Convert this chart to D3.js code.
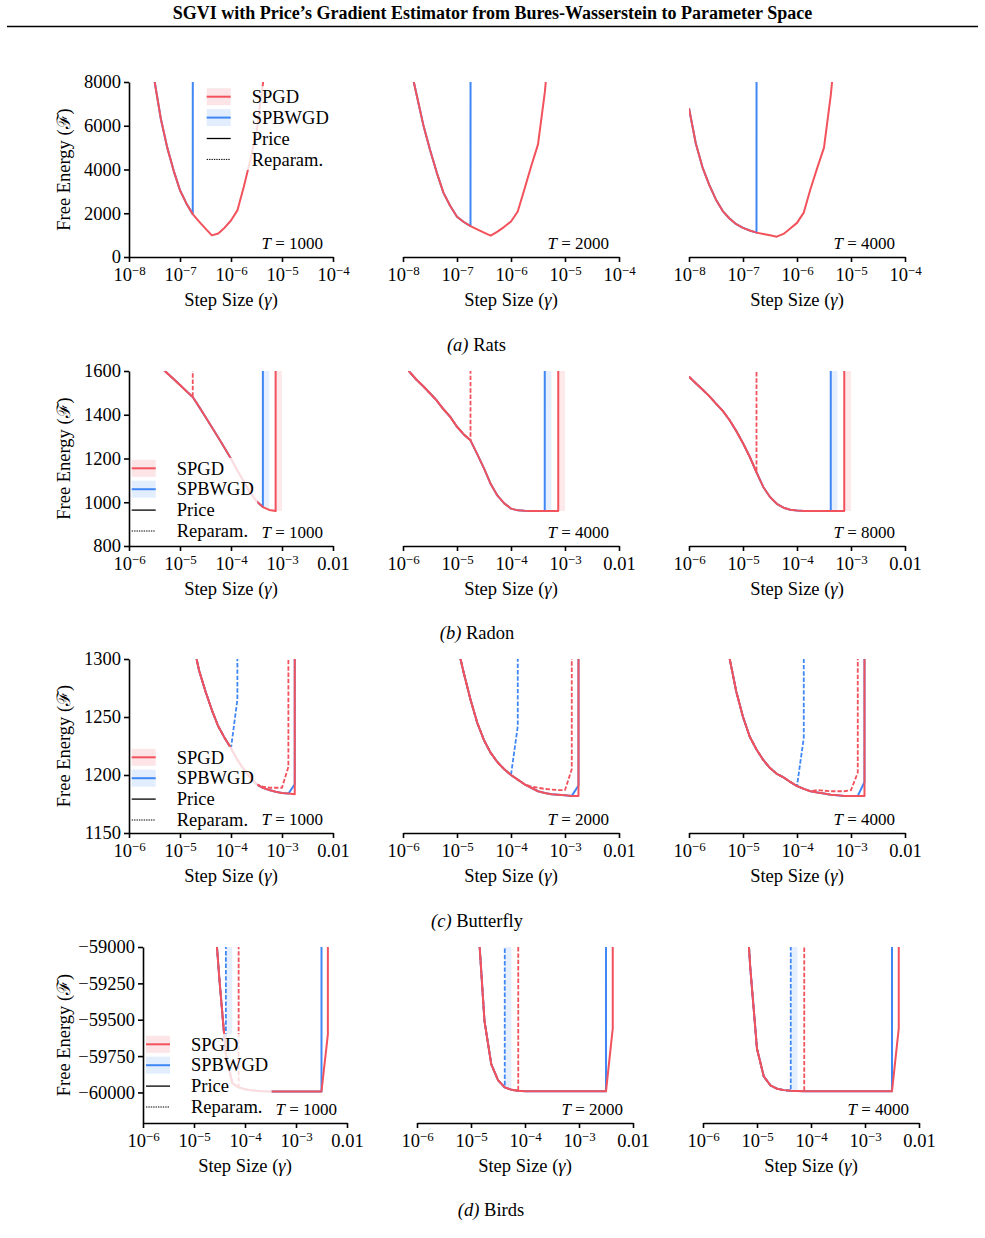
<!DOCTYPE html>
<html>
<head>
<meta charset="utf-8">
<title>SGVI step size sweep</title>
<script src="https://cdn.jsdelivr.net/npm/d3@7/dist/d3.min.js"></script>
<style>
  body { margin: 0; background: #fff; }
  svg { display: block; }
  text { font-family: "Liberation Serif", "Times New Roman", Times, serif; fill: #000; }
</style>
</head>
<body>
<svg id="fig" width="985" height="1238"></svg>
<script>
const _ = null;
// a run that diverged is stored as this huge value, so its line shoots off the top
const DIV = 1e6;

// step size grids, 8 points per decade
const stepsRats = [1e-8, 1.334e-8, 1.778e-8, 2.371e-8, 3.162e-8, 4.217e-8, 5.623e-8, 7.499e-8,
  1e-7, 1.334e-7, 1.778e-7, 2.371e-7, 3.162e-7, 4.217e-7, 5.623e-7, 7.499e-7,
  1e-6, 1.334e-6, 1.778e-6, 2.371e-6, 3.162e-6, 4.217e-6, 5.623e-6];
const stepsWide = [1e-6, 1.334e-6, 1.778e-6, 2.371e-6, 3.162e-6, 4.217e-6, 5.623e-6, 7.499e-6,
  1e-5, 1.334e-5, 1.778e-5, 2.371e-5, 3.162e-5, 4.217e-5, 5.623e-5, 7.499e-5,
  1e-4, 1.334e-4, 1.778e-4, 2.371e-4, 3.162e-4, 4.217e-4, 5.623e-4, 7.499e-4,
  1e-3, 1.334e-3, 1.778e-3, 2.371e-3, 3.162e-3, 4.217e-3, 5.623e-3];

// ---- Rats ----
const ratsT = [1000, 2000, 4000];
const ratsSpgdPrice = [
  [_, _, _, 10800, 8050, 6310, 5000, 3950, 3050, 2450, 1960, 1620, 1300, 990, 1075, 1340, 1670, 2130, 3200, 4400, 5700, 7900, 11000],
  [_, 8840, 7440, 6050, 4900, 3860, 2930, 2330, 1844, 1600, 1415, 1260, 1115, 975, 1160, 1380, 1620, 2080, 3110, 4160, 5150, 7500, 10800],
  [6800, 5200, 4100, 3300, 2620, 2100, 1760, 1500, 1330, 1210, 1115, 1050, 990, 930, 1055, 1300, 1560, 2030, 3110, 4075, 5000, 7390, 10500]
];
const ratsSpbwgdPrice = [
  [_, _, _, 10800, 8050, 6310, 5000, 3950, 3050, 2450, 1960, DIV],
  [_, 8840, 7440, 6050, 4900, 3860, 2930, 2330, 1844, 1600, 1415, DIV],
  [6800, 5200, 4100, 3300, 2620, 2100, 1760, 1500, 1330, 1210, 1115, DIV]
];

// ---- Radon ----
const radonT = [1000, 4000, 8000];
const radonSpgdPrice = [
  [_, _, _, _, _, 1617, 1590, 1563, 1536, 1508, 1481, 1436, 1390, 1343, 1296, 1248, 1199, 1145, 1095, 1045, 1005, 978, 965, 960, DIV],
  [1640, 1595, 1560, 1530, 1498, 1465, 1425, 1390, 1345, 1310, 1283, 1220, 1155, 1083, 1030, 995, 971, 963, 961, 960, 960, 960, 960, 960, DIV],
  [1574, 1544, 1515, 1485, 1451, 1418, 1376, 1326, 1270, 1208, 1137, 1070, 1024, 993, 975, 966, 962, 960, 960, 960, 960, 960, 960, 960, DIV]
];
const radonSpgdReparam = [
  [_, _, _, _, _, 1617, 1590, 1563, 1536, 1508, 1481, DIV],
  [1640, 1595, 1560, 1530, 1498, 1465, 1425, 1390, 1345, 1310, 1283, DIV],
  [1574, 1544, 1515, 1485, 1451, 1418, 1376, 1326, 1270, 1208, 1137, DIV]
];
const radonSpbwgdPrice = [
  [_, _, _, _, _, 1617, 1590, 1563, 1536, 1508, 1481, 1436, 1390, 1343, 1296, 1248, 1199, 1145, 1095, 1045, 1005, 978, DIV],
  [1640, 1595, 1560, 1530, 1498, 1465, 1425, 1390, 1345, 1310, 1283, 1220, 1155, 1083, 1030, 995, 971, 963, 961, 960, 960, 960, DIV],
  [1574, 1544, 1515, 1485, 1451, 1418, 1376, 1326, 1270, 1208, 1137, 1070, 1024, 993, 975, 966, 962, 960, 960, 960, 960, 960, DIV]
];
// [step, lower, upper] of the spread across runs where it shows
const radonSpgdBand = [
  [[7.499e-4, 960, 960], [1e-3, 960, DIV]],
  [[7.499e-4, 960, 960], [1e-3, 960, DIV]],
  [[7.499e-4, 960, 960], [1e-3, 960, DIV]]
];
const radonSpbwgdBand = [
  [[4.217e-4, 978, 978], [5.623e-4, 965, DIV]],
  [[4.217e-4, 960, 960], [5.623e-4, 960, DIV]],
  [[4.217e-4, 960, 960], [5.623e-4, 960, DIV]]
];

// ---- Butterfly ----
const butterflyT = [1000, 2000, 4000];
const butterflySpgdPrice = [
  [_, _, _, _, _, _, _, _, _, _, 1315, 1290, 1272, 1256, 1242, 1232, 1223, 1213, 1205, 1198, 1192, 1189, 1187, 1185.5, 1184.5, 1184, 1183.5, DIV],
  [_, _, _, _, _, _, _, _, 1313, 1288, 1265, 1245, 1230, 1219, 1211, 1205, 1200, 1196, 1192, 1189, 1186, 1184.5, 1183.5, 1183, 1182.5, 1182, 1182, DIV],
  [_, _, _, _, _, 1335, 1301, 1272, 1250, 1233, 1222, 1213, 1206, 1201, 1198, 1194, 1190.5, 1188, 1186, 1185, 1184, 1183, 1182.5, 1182, 1182, 1182, 1182, DIV]
];
const butterflySpgdReparam = [
  [_, _, _, _, _, _, _, _, _, _, 1315, 1290, 1272, 1256, 1242, 1232, 1223, 1213, 1205, 1198, 1192, 1190, 1189, 1189, 1189, 1207, DIV],
  [_, _, _, _, _, _, _, _, 1313, 1288, 1265, 1245, 1230, 1219, 1211, 1205, 1200, 1196, 1192, 1190, 1189, 1188, 1187.5, 1187, 1187, 1205, DIV],
  [_, _, _, _, _, 1335, 1301, 1272, 1250, 1233, 1222, 1213, 1206, 1201, 1198, 1194, 1190.5, 1188, 1186, 1187, 1186.5, 1186, 1186, 1186, 1187, 1202, DIV]
];
const butterflySpbwgdPrice = [
  [_, _, _, _, _, _, _, _, _, _, 1315, 1290, 1272, 1256, 1242, 1232, 1223, 1213, 1205, 1198, 1192, 1189, 1187, 1185.5, 1184.5, 1184, 1192, DIV],
  [_, _, _, _, _, _, _, _, 1313, 1288, 1265, 1245, 1230, 1219, 1211, 1205, 1200, 1196, 1192, 1189, 1186, 1184.5, 1183.5, 1183, 1182.5, 1182, 1191, DIV],
  [_, _, _, _, _, 1335, 1301, 1272, 1250, 1233, 1222, 1213, 1206, 1201, 1198, 1194, 1190.5, 1188, 1186, 1185, 1184, 1183, 1182.5, 1182, 1182, 1182, 1194, DIV]
];
const butterflySpbwgdReparam = [
  [_, _, _, _, _, _, _, _, _, _, 1315, 1290, 1272, 1256, 1242, 1232, 1223, 1265, DIV],
  [_, _, _, _, _, _, _, _, 1313, 1288, 1265, 1245, 1230, 1219, 1211, 1205, 1200, 1242, DIV],
  [_, _, _, _, _, 1335, 1301, 1272, 1250, 1233, 1222, 1213, 1206, 1201, 1198, 1194, 1190.5, 1232, DIV]
];

// ---- Birds ----
const birdsT = [1000, 2000, 4000];
const birdsSpgdPrice = [
  [_, _, _, _, _, _, _, _, _, _, _, -58650, -59230, -59740, -59935, -59965, -59978, -59985, -59990, -59992,
    -59993, -59993, -59993, -59993, -59993, -59993, -59993, -59993, -59993, -59600, DIV],
  [_, _, _, _, _, _, _, _, _, -58800, -59510, -59805, -59915, -59965, -59982, -59989,
    -59992, -59992, -59992, -59992, -59992, -59992, -59992, -59992, -59992, -59992, -59992, -59992, -59992, -59560, DIV],
  [_, _, _, _, _, _, -58400, -59140, -59700, -59890, -59952, -59975, -59984, -59988, -59990, -59991,
    -59992, -59992, -59992, -59992, -59992, -59992, -59992, -59992, -59992, -59992, -59992, -59992, -59992, -59560, DIV]
];
const birdsSpgdReparam = [
  [_, _, _, _, _, _, _, _, _, _, _, -58650, -59230, -59740, -59935, -59965, DIV],
  [_, _, _, _, _, _, _, _, _, -58800, -59510, -59805, -59915, -59965, -59982, -59989, DIV],
  [_, _, _, _, _, _, -58400, -59140, -59700, -59890, -59952, -59975, -59984, -59988, -59990, -59991, DIV]
];
const birdsSpbwgdPrice = [
  [_, _, _, _, _, _, _, _, _, _, _, -58650, -59230, -59740, -59935, -59965, -59978, -59985, -59990, -59992,
    -59993, -59993, -59993, -59993, -59993, -59993, -59993, -59993, -59993, DIV],
  [_, _, _, _, _, _, _, _, _, -58800, -59510, -59805, -59915, -59965, -59982, -59989,
    -59992, -59992, -59992, -59992, -59992, -59992, -59992, -59992, -59992, -59992, -59992, -59992, -59992, DIV],
  [_, _, _, _, _, _, -58400, -59140, -59700, -59890, -59952, -59975, -59984, -59988, -59990, -59991,
    -59992, -59992, -59992, -59992, -59992, -59992, -59992, -59992, -59992, -59992, -59992, -59992, -59992, DIV]
];
const birdsSpbwgdReparam = [
  [_, _, _, _, _, _, _, _, _, _, _, -58650, -59230, -59740, DIV],
  [_, _, _, _, _, _, _, _, _, -58800, -59510, -59805, -59915, -59965, DIV],
  [_, _, _, _, _, _, -58400, -59140, -59700, -59890, -59952, -59975, -59984, -59988, DIV]
];
const birdsSpbwgdBand = [
  [[4.217e-5, -59740, -59740], [5.623e-5, -59935, DIV]],
  [[4.217e-5, -59965, -59965], [5.623e-5, -59982, DIV]],
  [[4.217e-5, -59988, -59988], [5.623e-5, -59990, DIV]]
];

const decadesRats = [1e-8, 1e-7, 1e-6, 1e-5, 1e-4];
const decadesWide = [1e-6, 1e-5, 1e-4, 1e-3, 1e-2];

const RED = "#f2525c";
const BLUE = "#3f87f5";
const FS = 18.5;

const colsA = [[129, 333], [403, 619], [689, 905]];
const colsD = [[143, 347], [417, 633], [703, 919]];

const rows = [
  { label: "(a)", name: "Rats", steps: stepsRats, T: ratsT, top: 82, bottom: 257, cols: colsA,
    xDomain: [1e-8, 1e-4], xTicks: decadesRats, yDomain: [0, 8000], yTicks: [0, 2000, 4000, 6000, 8000],
    bands: [],
    series: [
      { values: ratsSpbwgdPrice, color: BLUE },
      { values: ratsSpgdPrice, color: RED }],
    legend: { x: 206.7, y: 96.7 }, capX: 476.5, capY: 351 },
  { label: "(b)", name: "Radon", steps: stepsWide, T: radonT, top: 371, bottom: 546, cols: colsA,
    xDomain: [1e-6, 1e-2], xTicks: decadesWide, yDomain: [800, 1600], yTicks: [800, 1000, 1200, 1400, 1600],
    bands: [{ data: radonSpbwgdBand, color: BLUE }, { data: radonSpgdBand, color: RED }],
    series: [
      { values: radonSpbwgdPrice, color: BLUE },
      { values: radonSpgdPrice, color: RED },
      { values: radonSpgdReparam, color: RED, dashed: true }],
    legend: { x: 131.7, y: 468.3 }, capX: 477, capY: 639 },
  { label: "(c)", name: "Butterfly", steps: stepsWide, T: butterflyT, top: 659, bottom: 833, cols: colsA,
    xDomain: [1e-6, 1e-2], xTicks: decadesWide, yDomain: [1150, 1300], yTicks: [1150, 1200, 1250, 1300],
    bands: [],
    series: [
      { values: butterflySpbwgdPrice, color: BLUE },
      { values: butterflySpbwgdReparam, color: BLUE, dashed: true },
      { values: butterflySpgdPrice, color: RED },
      { values: butterflySpgdReparam, color: RED, dashed: true }],
    legend: { x: 131.7, y: 757.3 }, capX: 477, capY: 927 },
  { label: "(d)", name: "Birds", steps: stepsWide, T: birdsT, top: 947, bottom: 1123, cols: colsD,
    xDomain: [1e-6, 1e-2], xTicks: decadesWide, yDomain: [-60210, -59000], yTicks: [-60000, -59750, -59500, -59250, -59000],
    bands: [{ data: birdsSpbwgdBand, color: BLUE }],
    series: [
      { values: birdsSpbwgdPrice, color: BLUE },
      { values: birdsSpbwgdReparam, color: BLUE, dashed: true },
      { values: birdsSpgdPrice, color: RED },
      { values: birdsSpgdReparam, color: RED, dashed: true }],
    legend: { x: 146, y: 1044.3 }, capX: 491, capY: 1216 }
];

const svg = d3.select("#fig");
const defs = svg.append("defs");

// title and rule
svg.append("text")
  .attr("x", 492.5).attr("y", 19)
  .attr("text-anchor", "middle")
  .attr("font-weight", "bold")
  .attr("font-size", 18)
  .text("SGVI with Price\u2019s Gradient Estimator from Bures-Wasserstein to Parameter Space");
svg.append("line")
  .attr("x1", 7).attr("x2", 978).attr("y1", 26.5).attr("y2", 26.5)
  .attr("stroke", "#000").attr("stroke-width", 1.3);

function xTickLabel(sel) {
  sel.each(function(d) {
    const t = d3.select(this).text(null);
    if (Math.abs(d - 0.01) < 1e-9) { t.text("0.01"); return; }
    const e = Math.round(Math.log10(d));
    t.append("tspan").text("10");
    t.append("tspan").attr("dy", "-0.48em").attr("font-size", "0.7em").text("\u2212" + Math.abs(e));
  });
}

function drawLegend(row) {
  const hx = row.legend.x, ly = row.legend.y, dy = 20.9;
  const g = svg.append("g");
  const bg = g.append("rect").attr("fill", "#fff").attr("fill-opacity", 0.8);
  const items = [
    { label: "SPGD", color: RED, band: true },
    { label: "SPBWGD", color: BLUE, band: true },
    { label: "Price", color: "#000" },
    { label: "Reparam.", color: "#000", dotted: true }];
  let maxW = 0;
  items.forEach((it, i) => {
    const cy = ly + i * dy;
    if (it.band) {
      g.append("rect").attr("x", hx).attr("y", cy - 8.5).attr("width", 24).attr("height", 17)
        .attr("fill", it.color).attr("fill-opacity", 0.15);
    }
    g.append("line").attr("x1", hx).attr("x2", hx + 24).attr("y1", cy).attr("y2", cy)
      .attr("stroke", it.color)
      .attr("stroke-width", it.band ? 2 : (it.dotted ? 1 : 1.3))
      .attr("stroke-dasharray", it.dotted ? "1.4,1" : null);
    const t = g.append("text").attr("x", hx + 45).attr("y", cy + 6.2).attr("font-size", FS).text(it.label);
    maxW = Math.max(maxW, t.node().getComputedTextLength());
  });
  bg.attr("x", hx - 1.5).attr("y", ly - 10.5).attr("width", 45 + maxW + 5).attr("height", 3 * dy + 21);
}

rows.forEach((row, ri) => {
  const scales = row.cols.map((c, col) => {
    const [x0, x1] = c;
    const x = d3.scaleLog().domain(row.xDomain).range([x0, x1]);
    const y = d3.scaleLinear().domain(row.yDomain).range([row.bottom, row.top]);
    const clipId = `clip-${ri}-${col}`;
    defs.append("clipPath").attr("id", clipId)
      .append("rect").attr("x", x0).attr("y", row.top)
      .attr("width", x1 - x0).attr("height", row.bottom - row.top);
    const plot = svg.append("g").attr("clip-path", `url(#${clipId})`);

    row.bands.forEach(b => {
      plot.append("path").datum(b.data[col])
        .attr("d", d3.area().x(d => x(d[0])).y0(d => y(d[1])).y1(d => y(d[2])))
        .attr("fill", b.color).attr("fill-opacity", 0.13);
    });

    const line = d3.line().defined(d => d[1] != null).x(d => x(d[0])).y(d => y(d[1]));
    row.series.forEach(s => {
      const pts = s.values[col].map((v, i) => [row.steps[i], v]);
      plot.append("path").datum(pts).attr("d", line)
        .attr("fill", "none").attr("stroke", s.color)
        .attr("stroke-width", s.dashed ? 1.8 : 2)
        .attr("stroke-dasharray", s.dashed ? "4.4,1.9" : null)
        .attr("stroke-linejoin", "round");
    });
    return { x, y };
  });

  drawLegend(row);

  row.cols.forEach((c, col) => {
    const { x, y } = scales[col];
    const gx = svg.append("g").attr("transform", `translate(0,${row.bottom})`)
      .call(d3.axisBottom(x).tickValues(row.xTicks).tickSize(5).tickSizeOuter(0).tickPadding(6));
    gx.attr("font-family", null).attr("font-size", null);
    gx.selectAll(".domain, .tick line").attr("stroke-width", 1.6);
    gx.selectAll(".tick text").attr("font-size", FS).call(xTickLabel);

    if (col === 0) {
      const gy = svg.append("g").attr("transform", `translate(${c[0]},0)`)
        .call(d3.axisLeft(y).tickValues(row.yTicks).tickSize(5).tickSizeOuter(0).tickPadding(3)
          .tickFormat(d3.format("d")));
      gy.attr("font-family", null).attr("font-size", null);
      gy.selectAll(".domain, .tick line").attr("stroke-width", 1.6);
      gy.selectAll(".tick text").attr("font-size", FS);

      svg.append("text")
        .attr("transform", `translate(70,${(row.top + row.bottom) / 2}) rotate(-90)`)
        .attr("text-anchor", "middle").attr("font-size", FS)
        .text("Free Energy (\u2131)");
    }

    const xl = svg.append("text")
      .attr("x", (c[0] + c[1]) / 2).attr("y", row.bottom + 49)
      .attr("text-anchor", "middle").attr("font-size", FS);
    xl.append("tspan").text("Step Size (");
    xl.append("tspan").attr("font-style", "italic").text("\u03b3");
    xl.append("tspan").text(")");

    const tl = svg.append("text")
      .attr("x", c[1] - 10).attr("y", row.bottom - 8)
      .attr("text-anchor", "end").attr("font-size", 17);
    tl.append("tspan").attr("font-style", "italic").text("T");
    tl.append("tspan").text(" = " + row.T[col]);
  });

  const cap = svg.append("text").attr("x", row.capX).attr("y", row.capY)
    .attr("text-anchor", "middle").attr("font-size", FS);
  cap.append("tspan").attr("font-style", "italic").text(row.label);
  cap.append("tspan").text(" " + row.name);
});
</script>
</body>
</html>
